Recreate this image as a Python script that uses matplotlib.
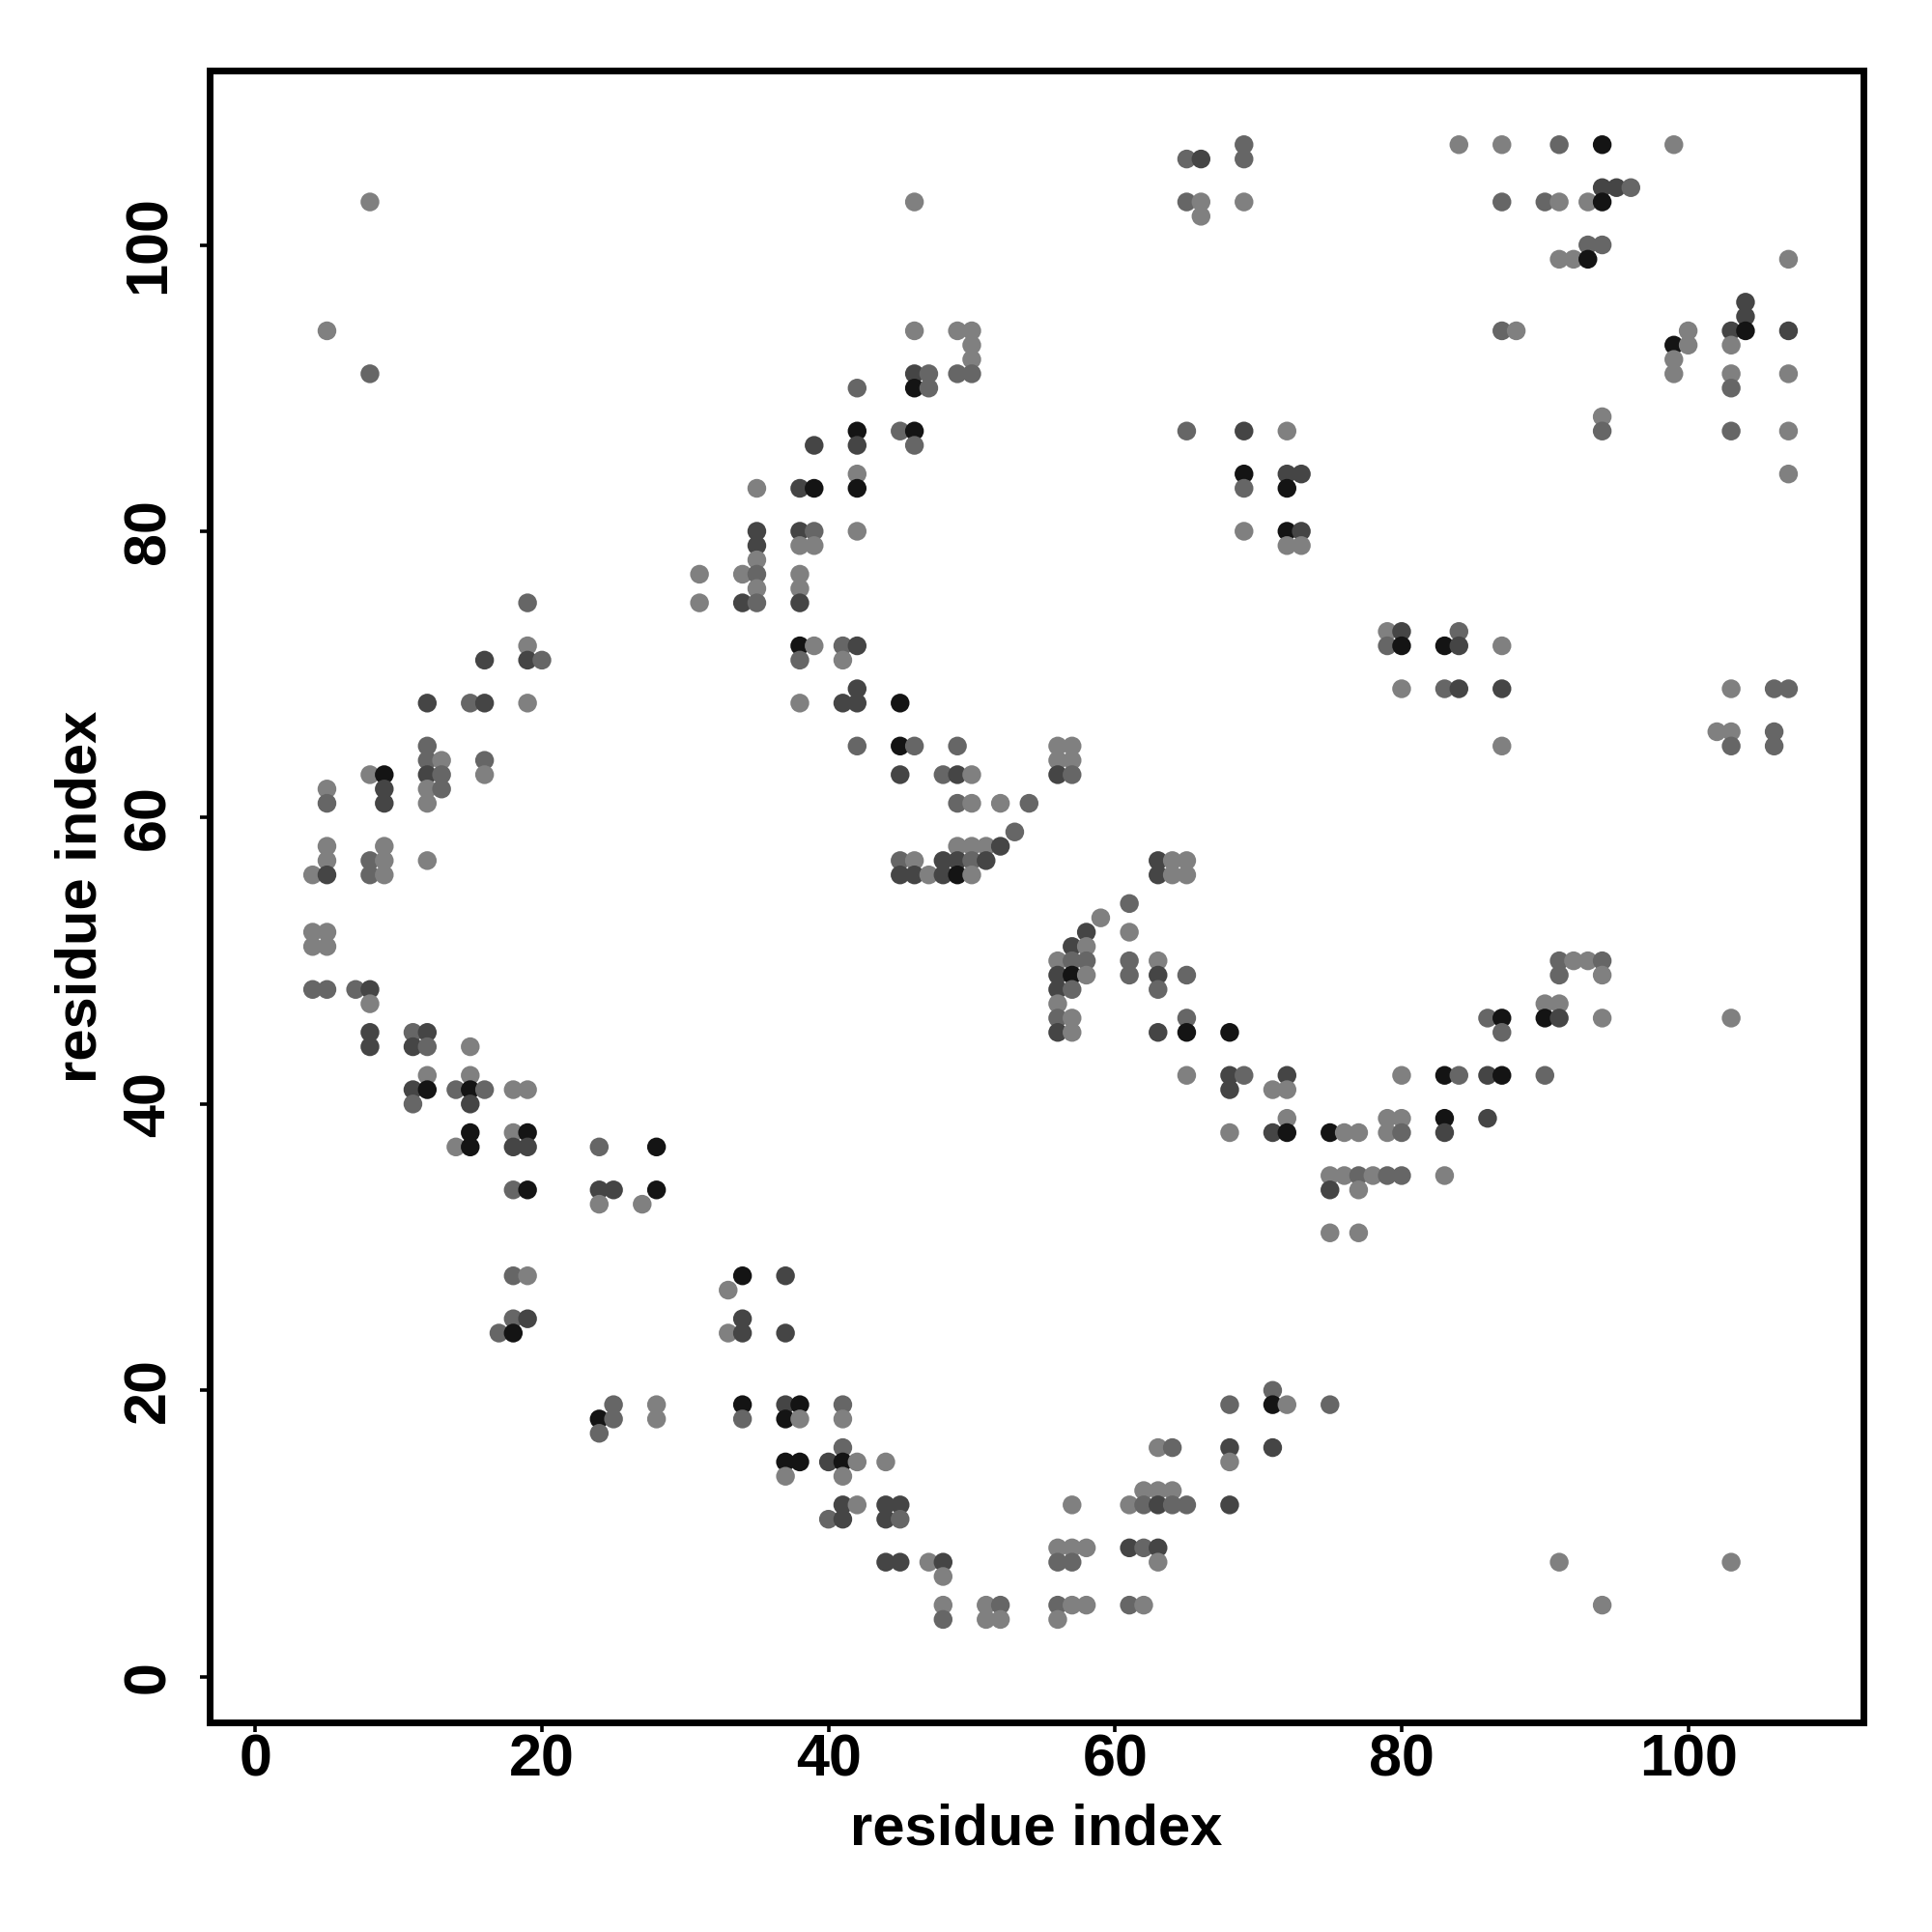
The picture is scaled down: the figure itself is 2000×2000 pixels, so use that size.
import matplotlib
matplotlib.use('Agg')
import matplotlib.pyplot as plt

plt.rcParams['font.family'] = 'Liberation Sans'
plt.rcParams['font.weight'] = 'bold'

# grey level of each contact class
shade_grey = {'L': 0.50, 'M': 0.40, 'D': 0.27, 'K': 0.08}

row_y = [107, 106, 104, 103, 102, 100, 99, 96, 95, 94, 93, 92, 91, 90, 88, 87, 86, 84, 83, 80,
         79, 78, 77, 76, 75, 73, 72, 71, 69, 68, 66, 65, 64, 63, 62, 61, 59, 58, 57, 56,
         54, 53, 52, 51, 50, 49, 48, 47, 46, 45, 44, 42, 41, 40, 39, 38, 37, 35, 34, 33,
         31, 28, 27, 25, 24, 20, 19, 18, 17, 16, 15, 14, 13, 12, 11, 9, 8, 7, 5, 4]

row_x = [
    [69, 84, 87, 91, 94, 99],
    [65, 66, 69],
    [94, 95, 96],
    [8, 46, 65, 66, 69, 87, 90, 91, 93, 94],
    [66],
    [93, 94],
    [91, 92, 93, 107],
    [104],
    [104],
    [5, 46, 49, 50, 87, 88, 100, 103, 104, 107],
    [50, 99, 100, 103],
    [50, 99],
    [8, 46, 47, 49, 50, 99, 103, 107],
    [42, 46, 47, 103],
    [94],
    [42, 45, 46, 65, 69, 72, 94, 103, 107],
    [39, 42, 46],
    [42, 69, 72, 73, 107],
    [35, 38, 39, 42, 69, 72],
    [35, 38, 39, 42, 69, 72, 73],
    [35, 38, 39, 72, 73],
    [35],
    [31, 34, 35, 38],
    [35, 38],
    [19, 31, 34, 35, 38],
    [79, 80, 84],
    [19, 38, 39, 41, 42, 79, 80, 83, 84, 87],
    [16, 19, 20, 38, 41],
    [42, 80, 83, 84, 87, 103, 106, 107],
    [12, 15, 16, 19, 38, 41, 42, 45],
    [102, 103, 106],
    [12, 42, 45, 46, 49, 56, 57, 87, 103, 106],
    [12, 13, 16, 56, 57],
    [8, 9, 12, 13, 16, 45, 48, 49, 50, 56, 57],
    [5, 9, 12, 13],
    [5, 9, 12, 49, 50, 52, 54],
    [53],
    [5, 9, 49, 50, 51, 52],
    [5, 8, 9, 12, 45, 46, 48, 49, 50, 51, 63, 64, 65],
    [4, 5, 8, 9, 45, 46, 47, 48, 49, 50, 63, 64, 65],
    [61],
    [59],
    [4, 5, 58, 61],
    [4, 5, 57, 58],
    [56, 57, 58, 61, 63, 91, 92, 93, 94],
    [56, 57, 58, 61, 63, 65, 91, 94],
    [4, 5, 7, 8, 56, 57, 63],
    [8, 56, 90, 91],
    [56, 57, 65, 86, 87, 90, 91, 94, 103],
    [8, 11, 12, 56, 57, 63, 65, 68, 87],
    [8, 11, 12, 15],
    [12, 15, 65, 68, 69, 72, 80, 83, 84, 86, 87, 90],
    [11, 12, 14, 15, 16, 18, 19, 68, 71, 72],
    [11, 15],
    [72, 79, 80, 83, 86],
    [15, 18, 19, 68, 71, 72, 75, 76, 77, 79, 80, 83],
    [14, 15, 18, 19, 24, 28],
    [75, 76, 77, 78, 79, 80, 83],
    [18, 19, 24, 25, 28, 75, 77],
    [24, 27],
    [75, 77],
    [18, 19, 34, 37],
    [33],
    [18, 19, 34],
    [17, 18, 33, 34, 37],
    [71],
    [25, 28, 34, 37, 38, 41, 68, 71, 72, 75],
    [24, 25, 28, 34, 37, 38, 41],
    [24],
    [41, 63, 64, 68, 71],
    [37, 38, 40, 41, 42, 44, 68],
    [37, 41],
    [62, 63, 64],
    [41, 42, 44, 45, 57, 61, 62, 63, 64, 65, 68],
    [40, 41, 44, 45],
    [56, 57, 58, 61, 62, 63],
    [44, 45, 47, 48, 56, 57, 63, 91, 103],
    [48],
    [48, 51, 52, 56, 57, 58, 61, 62, 94],
    [48, 51, 52, 56],
]

row_shade = [
    'MLLMKL', 'MDM', 'DDM', 'LLMLLMMLLK', 'L', 'MM', 'LLKL', 'D', 'D', 'LLLLMLLDKD',
    'LKLL', 'LL', 'MDMMMLLL', 'MKMM', 'L', 'KMKMDLMML', 'DDM', 'LKDDL', 'LDKKMK', 'DDMLLKD',
    'DLLLL', 'L', 'LLML', 'LL', 'MLDMD', 'LDM', 'LKLMDMKKDL', 'DDMML', 'DLMDDLMM', 'DMDLLDDK',
    'LLM', 'MMKMMLLLMM', 'MLMLL', 'LKDMLDMDLDM', 'LDLM', 'MDLMLLM', 'M', 'LLLLLD',
    'LMLLMLDDMDDLL', 'LDMLDDLDKLDLL',
    'M', 'L', 'LLDL', 'LLDL', 'LMMMLMLLM', 'DKLMDMML', 'MMMDDMM', 'LLLL', 'MLMMKKDLL', 'DMDDLDKKM',
    'DDML', 'LLLDMDLKMDKM', 'DKMKMLLDLL', 'MD', 'LLLKD', 'KLKLDKKLLLMD', 'LKDDMK', 'LLMLMML',
    'MKDDKDL', 'LL',
    'LL', 'MLKD', 'L', 'MDD', 'MKLDD', 'M', 'MLKDKMMKLM', 'KMLMKLL', 'M', 'MLMDD',
    'KKDKLLL', 'LL', 'LLL', 'DLDDLLMDMMD', 'MDDM', 'LLLDMD', 'DDLDMMLLL', 'L', 'LLMMLLMLL', 'MLLL',
]

tick_values = [0, 20, 40, 60, 80, 100]

fig = plt.figure(figsize=(10, 10), dpi=200)
ax = fig.add_axes([170 / 1568, 1 - 1398 / 1568, 1342 / 1568, 1341 / 1568])

# expand rows into points
xs, ys, greys = [], [], []
for y, row, codes in zip(row_y, row_x, row_shade, strict=True):
    for x, code in zip(row, codes, strict=True):
        xs.append(x)
        ys.append(y)
        greys.append(str(shade_grey[code]))

ax.scatter(xs, ys, s=49, c=greys, linewidths=0, zorder=3)

ax.set_xlim(-3.2, 112.2)
ax.set_ylim(-3.2, 112.2)
ax.set_xticks(tick_values)
ax.set_yticks(tick_values)
ax.tick_params(axis='both', length=3.5, width=1.3, labelsize=22)
ax.tick_params(axis='x', pad=0.5)
ax.tick_params(axis='y', pad=8.5)
plt.setp(ax.get_yticklabels(), rotation=90, va='center')
for spine in ax.spines.values():
    spine.set_linewidth(2.5)
ax.set_xlabel('residue index', fontsize=21.5, fontweight='bold', labelpad=5.5)
ax.set_ylabel('residue index', fontsize=21.5, fontweight='bold', labelpad=5.5)

fig.savefig('out.png', dpi=200)
